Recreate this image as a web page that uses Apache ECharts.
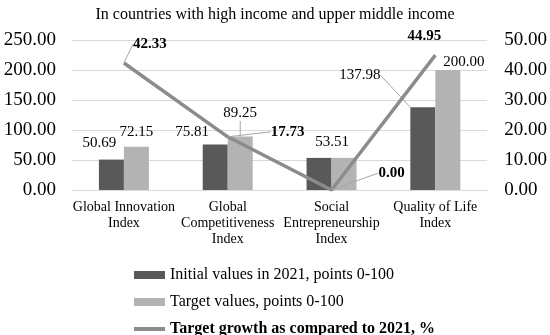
<!DOCTYPE html>
<html>
<head>
<meta charset="utf-8">
<script src="https://cdn.jsdelivr.net/npm/echarts@6/dist/echarts.min.js"></script>
<style>html,body{margin:0;padding:0;background:#fff}#c{width:550px;height:335px}</style>
</head>
<body>
<div id="c"></div>
<script>
const categories = ['Global Innovation\nIndex', 'Global\nCompetitiveness\nIndex', 'Social\nEntrepreneurship\nIndex', 'Quality of Life\nIndex'];
const initialValues = [50.69, 75.81, 53.51, 137.98];
const targetValues = [72.15, 89.25, 53.51, 200.00];
const targetGrowth = [42.33, 17.73, 0.00, 44.95];
const leftTicks = [0, 50, 100, 150, 200, 250];
const rightTicks = [0, 10, 20, 30, 40, 50];
const seriesNames = ['Initial values in 2021, points 0-100', 'Target values, points 0-100', 'Target growth as compared to 2021, %'];

// label placement relative to the mark's anchor (style only)
const initPlace = [[-12, -17], [-23, -12], [13, -16], [-63, -32]];
const targPlace = [[0, -15], [0, -23], [0, 0], [16, -8]];
const growthPlace = [[26, -19], [60, -5], [60, -17], [-11, -19]];
const initLeader = [false, false, false, true];
const targLeader = [false, true, false, false];
const targLabelShow = [true, true, false, true];
const growthLeader = [true, true, true, false];

const FONT = 'Liberation Serif, Times New Roman, serif';
const leaderStyle = {color: '#a6a6a6', width: 1};

function items(values, leader, show) {
  return values.map((v, i) => ({
    value: v,
    label: {show: show ? show[i] : true},
    labelLine: {show: leader[i], lineStyle: leaderStyle}
  }));
}
// anchor: top-centre of a bar, or centre of a line point
function placeFn(place, isPoint) {
  return p => {
    const r = p.rect, d = place[p.dataIndex];
    const ax = r.x + r.width / 2;
    const ay = isPoint ? r.y + r.height / 2 : r.y;
    return {x: ax + d[0], y: ay + d[1], align: 'center', verticalAlign: 'middle'};
  };
}

const chart = echarts.init(document.getElementById('c'), null, {renderer: 'canvas'});
chart.setOption({
  animation: false,
  textStyle: {fontFamily: FONT, color: '#000'},
  title: {
    text: 'In countries with high income and upper middle income',
    left: 'center', top: 2,
    textStyle: {fontFamily: FONT, fontSize: 16, fontWeight: 'normal', color: '#000'}
  },
  grid: {left: 72, right: 62, top: 40, bottom: 145},
  legend: {
    orient: 'vertical', left: 129, top: 261, height: 80,
    itemWidth: 31, itemHeight: 8, itemGap: 9,
    textStyle: {fontFamily: FONT, fontSize: 16, color: '#000', lineHeight: 18},
    data: [
      {name: seriesNames[0], icon: 'rect'},
      {name: seriesNames[1], icon: 'rect'},
      {name: seriesNames[2], icon: 'path://M0,0H31V4H0Z', textStyle: {fontWeight: 'bold'}}
    ]
  },
  xAxis: {
    type: 'category', data: categories,
    axisTick: {show: false},
    axisLine: {lineStyle: {color: '#d9d9d9', width: 1}},
    axisLabel: {fontFamily: FONT, fontSize: 14, color: '#000', lineHeight: 16, margin: 9, interval: 0}
  },
  yAxis: [
    {
      type: 'value', min: leftTicks[0], max: leftTicks[leftTicks.length - 1], interval: leftTicks[1] - leftTicks[0],
      axisLabel: {fontFamily: FONT, fontSize: 19, color: '#000', margin: 16, formatter: v => v.toFixed(2)},
      splitLine: {lineStyle: {color: '#d9d9d9', width: 1}},
      axisLine: {show: false}, axisTick: {show: false}
    },
    {
      type: 'value', min: rightTicks[0], max: rightTicks[rightTicks.length - 1], interval: rightTicks[1] - rightTicks[0],
      axisLabel: {fontFamily: FONT, fontSize: 19, color: '#000', margin: 17, formatter: v => v.toFixed(2)},
      splitLine: {show: false},
      axisLine: {show: false}, axisTick: {show: false}
    }
  ],
  series: [
    {
      name: seriesNames[0], type: 'bar', yAxisIndex: 0, barWidth: 25, barGap: '0%',
      itemStyle: {color: '#595959'},
      data: items(initialValues, initLeader, null),
      label: {show: true, position: 'top', fontFamily: FONT, fontSize: 15, color: '#000', formatter: p => p.value.toFixed(2)},
      labelLayout: placeFn(initPlace, false),
      z: 2
    },
    {
      name: seriesNames[1], type: 'bar', yAxisIndex: 0, barWidth: 25, barGap: '0%',
      itemStyle: {color: '#b3b3b3'},
      data: items(targetValues, targLeader, targLabelShow),
      label: {show: true, position: 'top', fontFamily: FONT, fontSize: 15, color: '#000', formatter: p => p.value.toFixed(2)},
      labelLayout: placeFn(targPlace, false),
      z: 2
    },
    {
      name: seriesNames[2], type: 'line', yAxisIndex: 1, symbol: 'circle', symbolSize: 0.1, showSymbol: true,
      lineStyle: {color: '#8c8c8c', width: 3.5},
      itemStyle: {color: '#8c8c8c'},
      data: items(targetGrowth, growthLeader, null),
      label: {show: true, position: 'top', fontFamily: FONT, fontSize: 15, fontWeight: 'bold', color: '#000', formatter: p => p.value.toFixed(2)},
      labelLayout: placeFn(growthPlace, true),
      z: 3
    }
  ]
});
</script>
</body>
</html>
